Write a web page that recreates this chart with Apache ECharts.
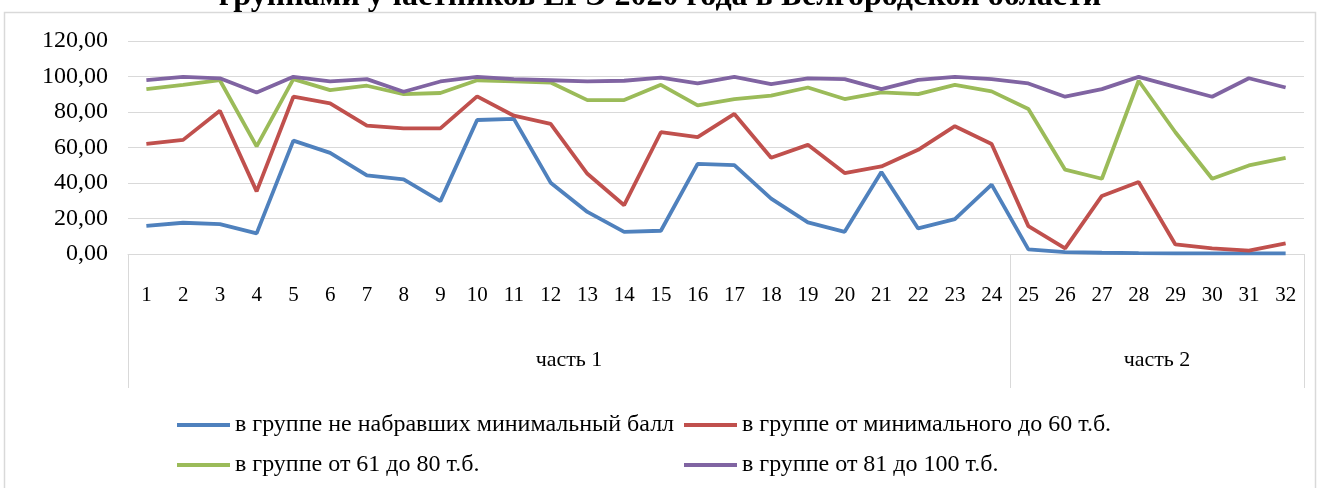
<!DOCTYPE html>
<html>
<head>
<meta charset="utf-8">
<script src="https://cdn.jsdelivr.net/npm/echarts@6/dist/echarts.min.js"></script>
<style>
html,body{margin:0;padding:0;background:#fff;}
#chart{width:1320px;height:488px;}
</style>
</head>
<body>
<div id="chart"></div>
<script>
const titleText = 'группами участников ЕГЭ 2020 года в Белгородской области';
const categories = ['1','2','3','4','5','6','7','8','9','10','11','12','13','14','15','16','17','18','19','20','21','22','23','24','25','26','27','28','29','30','31','32'];
const partLabels = ['часть 1', 'часть 2'];
const partSizes = [24, 8];
const seriesNames = [
  'в группе не набравших минимальный балл',
  'в группе от минимального до 60 т.б.',
  'в группе от 61 до 80 т.б.',
  'в группе от 81 до 100 т.б.'
];
const notPassed = [15.9,17.6,16.8,11.6,63.9,57.0,44.3,42.0,29.8,75.5,76.1,40.2,23.7,12.5,13.1,50.8,50.1,31.2,17.8,12.5,46.2,14.4,19.6,39.1,2.6,1.1,0.7,0.5,0.4,0.3,0.3,0.3];
const minTo60 = [62.0,64.3,80.7,35.3,88.6,84.9,72.3,70.8,70.8,88.8,77.9,73.3,45.2,27.5,68.6,65.8,78.9,54.2,61.5,45.6,49.3,58.7,72.0,62.0,15.7,3.2,32.7,40.6,5.4,3.2,1.9,6.0];
const from61to80 = [92.9,95.3,97.9,60.6,98.5,92.3,94.8,90.1,90.7,97.9,97.2,96.6,86.7,86.7,95.3,83.7,87.3,89.2,93.8,87.3,91.0,90.1,95.3,91.6,81.7,47.5,42.4,97.6,68.6,42.4,49.9,54.2];
const from81to100 = [97.9,99.8,99.0,91.0,99.8,97.2,98.5,91.4,97.2,99.8,98.5,97.9,97.2,97.6,99.4,96.1,99.8,95.7,98.9,98.5,92.9,98.1,99.8,98.5,96.1,88.6,92.9,99.8,94.2,88.6,99.0,93.8];
const yTicks = [0, 20, 40, 60, 80, 100, 120];

const colors = ['#4F81BD', '#C0504D', '#9BBB59', '#8064A2'];
const seriesData = [notPassed, minTo60, from61to80, from81to100];
const FONT = 'Liberation Serif';

// part boundaries and centers
const partBounds = [0];
partSizes.forEach(s => partBounds.push(partBounds[partBounds.length - 1] + s));
const partCenters = partSizes.map((s, i) => partBounds[i] + s / 2);

const chart = echarts.init(document.getElementById('chart'), null, {renderer: 'canvas'});

const legendPos = [
  {left: 177, top: 413},
  {left: 684, top: 413},
  {left: 177, top: 453},
  {left: 684, top: 453}
];

const option = {
  backgroundColor: '#fff',
  animation: false,
  textStyle: {fontFamily: FONT, color: '#000'},
  title: {
    text: titleText,
    left: 'center',
    top: -19,
    padding: [0, 0, 0, 14],
    textStyle: {fontFamily: FONT, fontWeight: 'bold', fontSize: 32, color: '#000'}
  },
  graphic: [{
    type: 'rect',
    shape: {x: 4.5, y: 12.5, width: 1311, height: 490},
    style: {fill: 'none', stroke: '#d9d9d9', lineWidth: 1.5},
    silent: true
  }],
  legend: seriesNames.map((n, i) => ({
    data: [n],
    left: legendPos[i].left,
    top: legendPos[i].top,
    padding: 0,
    icon: 'rect',
    itemWidth: 53,
    itemHeight: 4,
    itemGap: 0,
    selectedMode: false,
    textStyle: {fontFamily: 'serif', fontSize: 24, color: '#000', fontWeight: 'normal'}
  })),
  grid: {left: 128, right: 16, top: 41, bottom: 234, containLabel: false},
  xAxis: [{
    type: 'category',
    data: categories,
    boundaryGap: true,
    position: 'bottom',
    axisLine: {show: true, lineStyle: {color: '#d9d9d9', width: 1}},
    axisTick: {show: false},
    axisLabel: {fontFamily: FONT, fontSize: 21, color: '#000', margin: 31, interval: 0}
  }, {
    type: 'value',
    min: partBounds[0],
    max: partBounds[partBounds.length - 1],
    position: 'bottom',
    axisLine: {show: false},
    splitLine: {show: false},
    axisTick: {show: true, customValues: partBounds, length: 134, inside: false, lineStyle: {color: '#d9d9d9', width: 1}},
    axisLabel: {
      customValues: partCenters,
      fontFamily: FONT, fontSize: 22, color: '#000', margin: 95,
      formatter: v => {
        const idx = partCenters.indexOf(v);
        return idx >= 0 ? partLabels[idx] : '';
      }
    }
  }],
  yAxis: {
    type: 'value',
    min: yTicks[0],
    max: yTicks[yTicks.length - 1],
    interval: 20,
    axisLine: {show: false},
    axisTick: {show: false},
    splitLine: {show: true, lineStyle: {color: '#d9d9d9', width: 1}},
    axisLabel: {
      fontFamily: FONT, fontSize: 24, color: '#000', margin: 20,
      formatter: v => v.toFixed(2).replace('.', ',')
    }
  },
  series: seriesNames.map((n, i) => ({
    name: n,
    type: 'line',
    xAxisIndex: 0,
    data: seriesData[i],
    showSymbol: false,
    symbol: 'none',
    lineStyle: {color: colors[i], width: 3.8},
    itemStyle: {color: colors[i]},
    emphasis: {disabled: true}
  }))
};
chart.setOption(option);
</script>
</body>
</html>
